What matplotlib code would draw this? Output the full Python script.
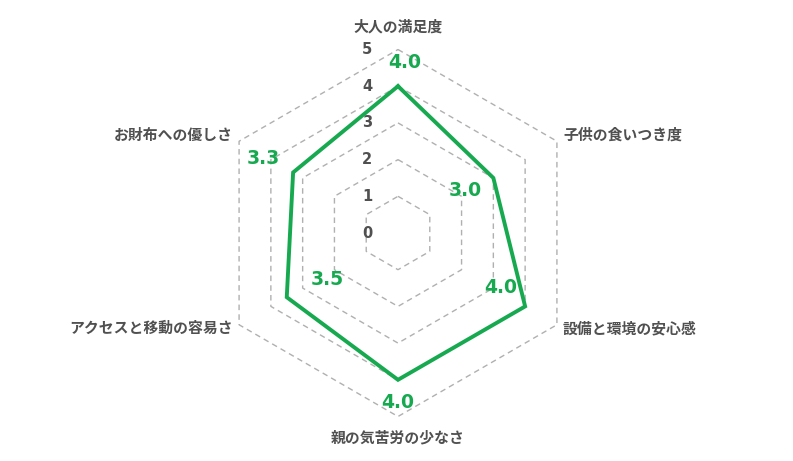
import numpy as np
import matplotlib.pyplot as plt

plt.rcParams['font.family'] = ['Noto Sans CJK JP', 'DejaVu Sans']

# データ
categories = ['大人の満足度', '子供の食いつき度', '設備と環境の安心感',
              '親の気苦労の少なさ', 'アクセスと移動の容易さ', 'お財布への優しさ']
values = [4.0, 3.0, 4.0, 4.0, 3.5, 3.3]
ticks = [0, 1, 2, 3, 4, 5]

green = '#17a94f'
gray_text = '#505050'
grid_col = '#b0b0b0'

W, H = 793, 461
cx, cy = 398, 233       # 中心 (px)
unit = 36.7             # 1目盛りあたりのpx

fig = plt.figure(figsize=(W / 100, H / 100), dpi=100)
ax = fig.add_axes([0, 0, 1, 1])
ax.set_xlim(-cx / unit, (W - cx) / unit)
ax.set_ylim(-(H - cy) / unit, cy / unit)
ax.set_aspect('equal')
ax.axis('off')

n = len(categories)
angles = np.pi / 2 - np.arange(n) * 2 * np.pi / n

# グリッド(六角形)
for r in ticks[1:]:
    gx = np.append(r * np.cos(angles), r * np.cos(angles[0]))
    gy = np.append(r * np.sin(angles), r * np.sin(angles[0]))
    ax.plot(gx, gy, color=grid_col, lw=1, ls=(0, (4, 3)), zorder=1)

# 目盛りラベル
for t in ticks:
    ax.text(-31 / unit, t, str(t), ha='center', va='center', fontsize=10.5,
            fontweight='bold', color=gray_text, family='DejaVu Sans', zorder=2)

# データ線
vx = np.array(values) * np.cos(angles)
vy = np.array(values) * np.sin(angles)
ax.plot(np.append(vx, vx[0]), np.append(vy, vy[0]), color=green, lw=2.8,
        zorder=3, solid_joinstyle='miter')

# 値ラベル
offsets = [(7, 24), (-28, -13), (-24, 19), (0, -23), (40, 18), (-30, 14)]
for x, y, v, off in zip(vx, vy, values, offsets):
    ax.annotate(f'{v:.1f}', (x, y), xytext=off, textcoords='offset pixels',
                ha='center', va='center', fontsize=13.5, fontweight='bold',
                color=green, family='DejaVu Sans', zorder=4)

# カテゴリラベル
label_pos = [((398, 27), 'center'), ((563, 135), 'left'), ((563, 328), 'left'),
             ((398, 437), 'center'), ((233, 328), 'right'), ((233, 135), 'right')]
for lab, ((px, py), ha) in zip(categories, label_pos):
    ax.text((px - cx) / unit, (cy - py) / unit, lab, ha=ha, va='center',
            fontsize=10.7, fontweight='bold', color=gray_text)

plt.savefig('out.png', dpi=100)
